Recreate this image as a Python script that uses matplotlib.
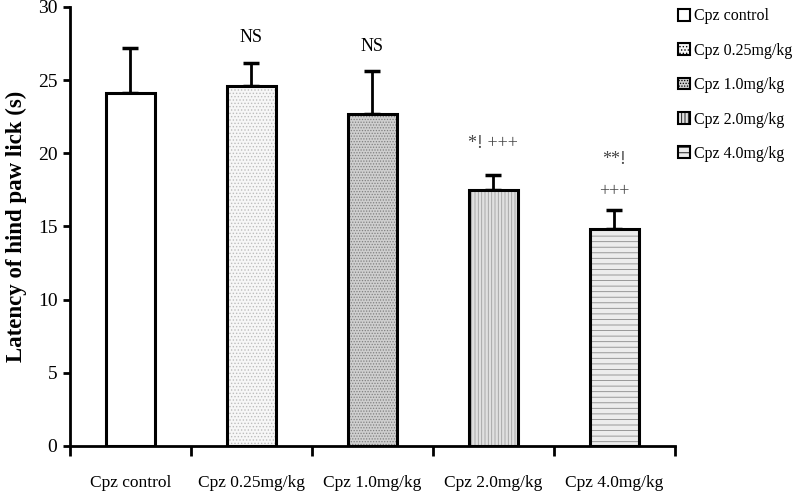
import numpy as np
import matplotlib
matplotlib.use("Agg")
import matplotlib.pyplot as plt
from matplotlib.patches import Patch

plt.rcParams['font.family'] = ['Liberation Serif', 'DejaVu Serif']
plt.rcParams['hatch.linewidth'] = 0.6

# data
groups = ['Cpz control', 'Cpz 0.25mg/kg', 'Cpz 1.0mg/kg', 'Cpz 2.0mg/kg', 'Cpz 4.0mg/kg']
latency = [24.1, 24.6, 22.7, 17.5, 14.8]
sem = [3.1, 1.6, 2.9, 1.0, 1.3]
marks = ['', 'NS', 'NS', '*! +++', '**!']
marks2 = ['', '', '', '', '+++']

# bar styles
faces = ['white', '#f7f7f7', '#cfcfcf', '#e0e0e0', '#ececec']
hatches = [None, '.....', '......', '|||||', '---']
hatch_cols = ['white', '#bdbdbd', '#808080', '#a0a0a0', '#8a8a8a']

fig = plt.figure(figsize=(7.94, 4.95), dpi=100)
ax = fig.add_axes([0.088, 0.099, 0.762, 0.887])

x = np.arange(len(groups))
w = 0.4
for i in x:
    ax.bar(i, latency[i], w, color=faces[i], hatch=hatches[i],
           edgecolor=hatch_cols[i], linewidth=0, zorder=2)
ax.bar(x, latency, w, fill=False, edgecolor='black', linewidth=2.2, zorder=3)
ax.errorbar(x, latency, yerr=[np.zeros(len(sem)), sem], fmt='none',
            ecolor='black', elinewidth=2, capsize=6, capthick=2.5, zorder=1)

# significance labels
gap = [0, 1.1, 1.1, 1.6, 2.9]
for i in x:
    if not marks[i]:
        continue
    top = latency[i] + sem[i]
    col = 'black' if marks[i] == 'NS' else '#444444'
    ax.text(i, top + gap[i], marks[i], ha='center', va='bottom',
            fontsize=13, color=col)
    if marks2[i]:
        ax.text(i, top + 0.7, marks2[i], ha='center', va='bottom',
                fontsize=13, color=col)

ax.set_xlim(-0.5, len(groups) - 0.5)
ax.set_ylim(0, 30)
ax.set_yticks(range(0, 31, 5))
ax.set_xticks(np.arange(-0.5, len(groups), 1.0))
ax.set_xticklabels([])
ax.set_xticks(x, minor=True)
ax.set_xticklabels(groups, minor=True, fontsize=12.5)
ax.tick_params(axis='x', which='minor', length=0, pad=21)
ax.tick_params(axis='x', which='major', length=7, width=2, direction='out')
ax.tick_params(axis='y', length=5, width=2, labelsize=14, pad=4)

for s in ['top', 'right']:
    ax.spines[s].set_visible(False)
for s in ['left', 'bottom']:
    ax.spines[s].set_linewidth(2)

ax.set_ylabel('Latency of hind paw lick (s)', fontsize=16.5, fontweight='bold', labelpad=8)

handles = [Patch(facecolor=faces[i], hatch=hatches[i], edgecolor='black', linewidth=1.5)
           for i in range(len(groups))]
fig.legend(handles, groups, loc='upper left', bbox_to_anchor=(0.836, 1.012),
           frameon=False, fontsize=11.5, handlelength=0.75, handleheight=0.75,
           handletextpad=0.25, labelspacing=1.15)

fig.savefig('out.png', dpi=100)
